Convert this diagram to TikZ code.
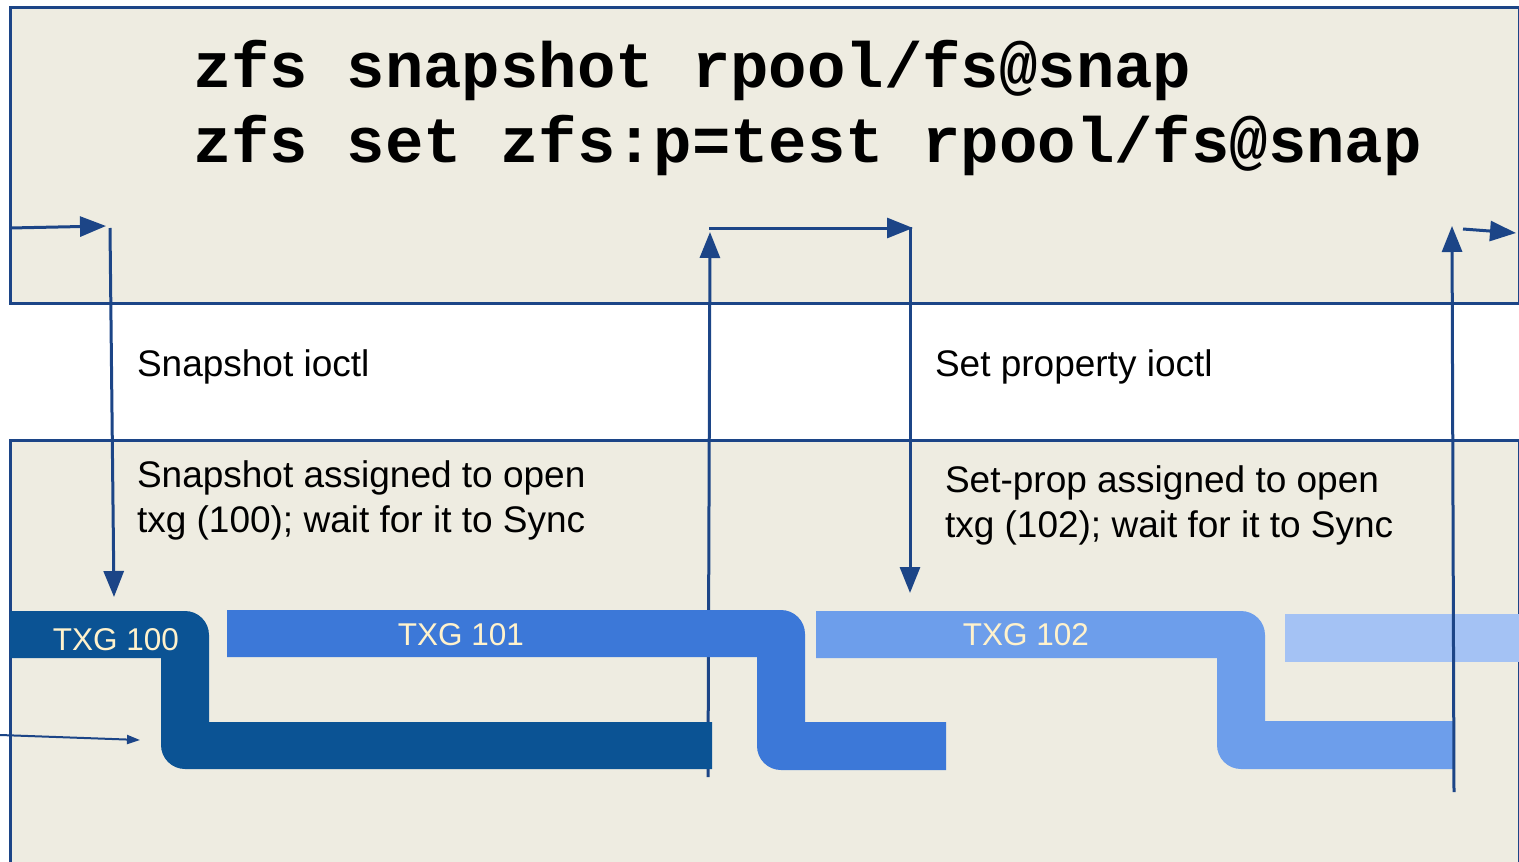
\documentclass[tikz,border=0pt]{standalone}
\usepackage{fontspec}
\setmainfont{Liberation Sans}
\setmonofont{Liberation Mono}
\usetikzlibrary{arrows.meta}
\definecolor{boxfill}{HTML}{EEECE1}
\definecolor{linec}{HTML}{1C4587}
\definecolor{txgA}{HTML}{0B5394}
\definecolor{txgB}{HTML}{3C78D8}
\definecolor{txgC}{HTML}{6D9EEB}
\definecolor{txgD}{HTML}{A4C2F4}
\definecolor{labelc}{HTML}{FFF2CC}
\begin{document}
\begin{tikzpicture}[x=1pt,y=-1pt,
  panel/.style={draw=linec,line width=3pt,fill=boxfill},
  conn/.style={draw=linec,line width=3pt,-{Triangle[length=26pt,width=20pt]}},
  thinconn/.style={draw=linec,line width=2pt,-{Triangle[length=13pt,width=9pt]}},
  plain/.style={inner sep=0pt,outer sep=0pt,anchor=base west,align=left,font=\fontsize{37}{45}\selectfont},
  cmd/.style={inner sep=0pt,outer sep=0pt,anchor=base west,align=left,font=\ttfamily\bfseries\fontsize{64}{75}\selectfont},
  txglabel/.style={inner sep=0pt,anchor=base,text=labelc,font=\fontsize{31.5}{36}\selectfont}]
\useasboundingbox (0,0) rectangle (1519,862);
\clip (0,0) rectangle (1519,862);
% panels
\path[panel] (10,7) rectangle (1519,303);
\path[panel] (10,440) rectangle (1519,880);
% named end points
\coordinate (a1s) at (10,228);
\coordinate (a1e) at (106,226);
\coordinate (a2s) at (110,228);
\coordinate (a2e) at (114,597);
\coordinate (a3s) at (708,777);
\coordinate (a3e) at (710,232);
\coordinate (a4s) at (709,228);
\coordinate (a4e) at (913,228);
\coordinate (a5s) at (910,227);
\coordinate (a5e) at (910,593);
\coordinate (a6s) at (1454,792);
\coordinate (a6e) at (1452,226);
\coordinate (a7s) at (1463,229);
\coordinate (a7e) at (1516,233);
\coordinate (a8s) at (0,735);
\coordinate (a8e) at (140,740);
% arrow hidden under TXG 101
\draw[conn] (a3s) -- (a3e);
% TXG bands
\fill[txgA] (10,611) -- (185,611) arc[start angle=270,end angle=360,radius=24] -- (209,722) -- (712,722) -- (712,769) -- (185,769) arc[start angle=90,end angle=180,radius=24] -- (161,658) -- (10,658) -- cycle;
\fill[txgB] (227,610) -- (781,610) arc[start angle=270,end angle=360,radius=24] -- (805,722) -- (946,722) -- (946,770) -- (781,770) arc[start angle=90,end angle=180,radius=24] -- (757,657) -- (227,657) -- cycle;
\fill[txgC] (816,611) -- (1241,611) arc[start angle=270,end angle=360,radius=24] -- (1265,721) -- (1453,721) -- (1453,769) -- (1241,769) arc[start angle=90,end angle=180,radius=24] -- (1217,658) -- (816,658) -- cycle;
\fill[txgD] (1285,614) rectangle (1519,662);
\node[txglabel] (t100) at (116,650) {TXG 100};
\node[txglabel] (t101) at (461,645) {TXG 101};
\node[txglabel] (t102) at (1026,645) {TXG 102};
% connectors
\draw[conn] (a1s) -- (a1e);
\draw[conn] (a2s) -- (a2e);
\draw[conn] (a4s) -- (a4e);
\draw[conn] (a5s) -- (a5e);
\draw[conn] (a6s) -- (a6e);
\draw[conn] (a7s) -- (a7e);
\draw[thinconn] (a8s) -- (a8e);
% texts (base anchor = last line of a multi-line node)
\node[cmd] (cmds) at (193,162) {zfs snapshot rpool/fs@snap\\zfs set zfs:p=test rpool/fs@snap};
\node[plain] (snapio) at (137,376) {Snapshot ioctl};
\node[plain] (snapas) at (137,532) {Snapshot assigned to open\\txg (100); wait for it to Sync};
\node[plain] (setio) at (935,376) {Set property ioctl};
\node[plain] (setas) at (945,537) {Set-prop assigned to open\\txg (102); wait for it to Sync};
\end{tikzpicture}
\end{document}
